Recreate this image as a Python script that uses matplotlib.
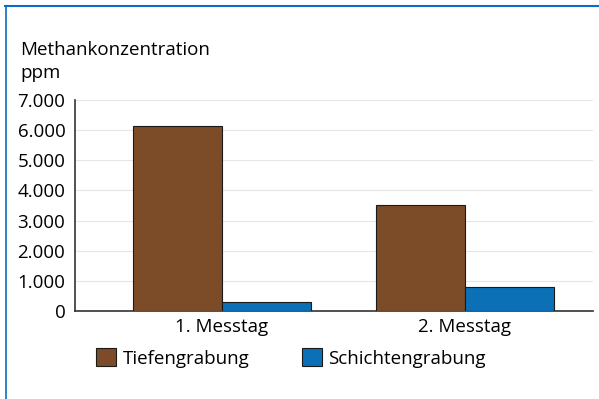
import numpy as np
import matplotlib.pyplot as plt
from matplotlib.patches import Patch
from matplotlib.lines import Line2D

plt.rcParams['font.family'] = ['Open Sans', 'DejaVu Sans']

categories = ['1. Messtag', '2. Messtag']
tiefengrabung = [6150, 3520]
schichtengrabung = [300, 800]
series_names = ['Tiefengrabung', 'Schichtengrabung']
yticks = [0, 1000, 2000, 3000, 4000, 5000, 6000, 7000]
ytick_labels = ['0', '1.000', '2.000', '3.000', '4.000', '5.000', '6.000', '7.000']

brown = '#7b4c27'
blue = '#0b70b5'
fs = 13.5

fig = plt.figure(figsize=(5.99, 3.99), dpi=100)
ax = fig.add_axes([0.1252, 0.2206, 0.8648, 0.5288])

x = np.arange(len(categories))
w = 0.366
ax.bar(x - w / 2, tiefengrabung, w, color=brown, edgecolor='#1a1a1a', linewidth=0.8, zorder=3)
ax.bar(x + w / 2, schichtengrabung, w, color=blue, edgecolor='#1a1a1a', linewidth=0.8, zorder=3)

ax.set_ylim(0, 7000)
ax.set_xlim(-0.605, 1.527)
ax.set_yticks(yticks)
ax.set_yticklabels(ytick_labels, fontsize=fs)
ax.set_xticks(x)
ax.set_xticklabels(categories, fontsize=fs)
ax.tick_params(axis='y', length=0, pad=7)
ax.tick_params(axis='x', length=0, pad=5)
ax.yaxis.grid(True, color='#e6e6e6', linewidth=0.8, zorder=0)
for s in ['top', 'right']:
    ax.spines[s].set_visible(False)
for s in ['left', 'bottom']:
    ax.spines[s].set_color('#333333')
    ax.spines[s].set_linewidth(1.2)

fig.text(20 / 599, 1 - 50 / 399, 'Methankonzentration', fontsize=fs, va='center', ha='left')
fig.text(20 / 599, 1 - 73 / 399, 'ppm', fontsize=fs, va='center', ha='left')

handles = [Patch(facecolor=brown, edgecolor='#1a1a1a', linewidth=0.8),
           Patch(facecolor=blue, edgecolor='#1a1a1a', linewidth=0.8)]
fig.legend(handles, series_names, loc='center left', bbox_to_anchor=(96 / 599, 1 - 358 / 399),
           ncol=2, frameon=False, fontsize=fs, handlelength=1.05, handleheight=1.05,
           handletextpad=0.37, columnspacing=2.8, borderpad=0, borderaxespad=0)

# blue frame on top and left
fig.add_artist(Line2D([5 / 599, 1], [1 - 5.5 / 399, 1 - 5.5 / 399], color='#0a6cc4', linewidth=1.5, transform=fig.transFigure))
fig.add_artist(Line2D([5.5 / 599, 5.5 / 599], [0, 1 - 5.5 / 399], color='#0a6cc4', linewidth=1.2, transform=fig.transFigure))

fig.savefig('out.png', dpi=100)
